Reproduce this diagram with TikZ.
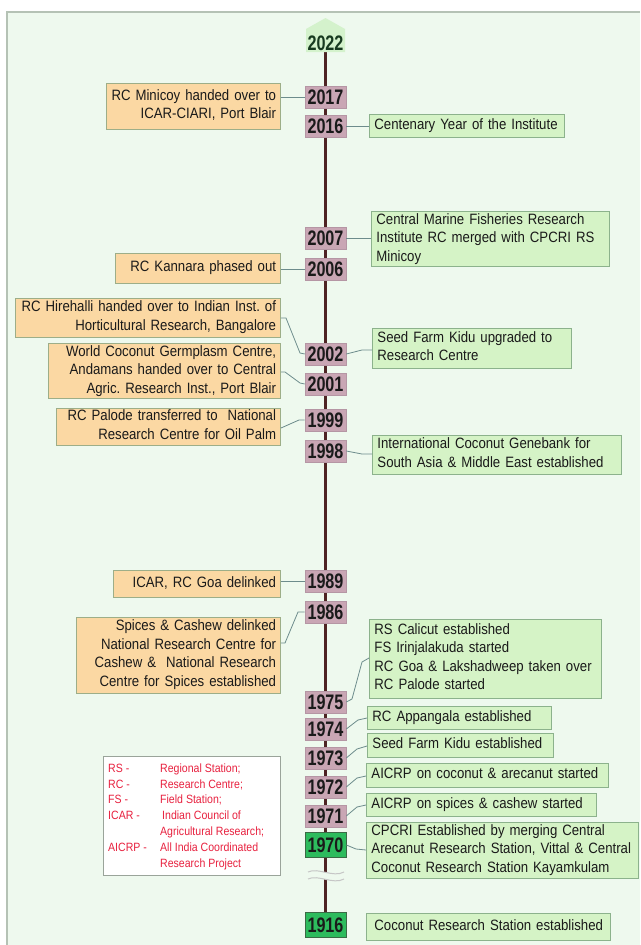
\documentclass[tikz,border=0pt]{standalone}
\usepackage{fontspec}
\setmainfont[FakeStretch=0.88]{Liberation Sans}
\newfontfamily\yearfont[FakeStretch=0.77]{Liberation Sans}
\frenchspacing
\pgfdeclarelayer{bg}
\pgfdeclarelayer{back}
\pgfsetlayers{bg,back,main}
\definecolor{bgc}{HTML}{EEF9EE}
\definecolor{framec}{HTML}{B5C2B5}
\definecolor{orfill}{HTML}{FBD8A3}
\definecolor{ordraw}{HTML}{9DAE88}
\definecolor{grfill}{HTML}{D5F3C6}
\definecolor{grdraw}{HTML}{8CB28C}
\definecolor{mauve}{HTML}{C9A6B4}
\definecolor{mauved}{HTML}{B596A4}
\definecolor{gyear}{HTML}{2DBB5D}
\definecolor{gyeard}{HTML}{3A6A45}
\definecolor{spinec}{HTML}{4E2424}
\definecolor{connc}{HTML}{6D8C8C}
\definecolor{txt}{HTML}{1A1A1A}
\definecolor{legred}{HTML}{E8213F}
\definecolor{legdraw}{HTML}{9AA49A}
\definecolor{topc}{HTML}{D4F2CC}
\definecolor{darkgr}{HTML}{173A1F}
\newcommand{\lftxt}[1]{\begin{tabular}{@{}r@{}}#1\end{tabular}}
\newcommand{\rgtxt}[1]{\begin{tabular}{@{}l@{}}#1\end{tabular}}
\begin{document}
\frenchspacing
\begin{tikzpicture}[x=1pt,y=-1pt,
  yrtext/.style={inner sep=0pt, font=\yearfont\bfseries\fontsize{21pt}{21pt}\selectfont},
  yr/.style={yrtext, fill=mauve, draw=mauved, line width=0.6pt, minimum width=41pt, minimum height=22pt, text=txt},
  yrg/.style={yrtext, fill=gyear, draw=gyeard, line width=0.8pt, minimum width=41pt, minimum height=25pt, text=txt},
  tbox/.style={inner ysep=0pt, text=txt, line width=0.9pt, font=\fontsize{15pt}{18.5pt}\selectfont},
  lbox/.style={tbox, inner xsep=4.5pt, fill=orfill, draw=ordraw, align=right, anchor=east},
  rbox/.style={tbox, inner xsep=5pt, fill=grfill, draw=grdraw, align=left, anchor=west},
  conn/.style={draw=connc, line width=0.8pt},
  spine/.style={draw=spinec, line width=3pt}
]
\useasboundingbox (0,0) rectangle (640,945);
\begin{pgfonlayer}{bg}
  \fill[white] (0,0) rectangle (640,945);
  \fill[bgc] (7,12) rectangle (640,945);
  \draw[framec, line width=1.2pt] (7,945) -- (7,12) -- (640,12);
\end{pgfonlayer}

% top marker
\fill[topc] (306,52) -- (306,29) -- (325.5,18) -- (345,29) -- (345,52) -- cycle;
\node[yrtext, text=darkgr] (y2022) at (325.5,43) {2022};

% year boxes
\node[yr] (y2017) at (325.5,97) {2017};
\node[yr] (y2016) at (325.5,126) {2016};
\node[yr] (y2007) at (325.5,238) {2007};
\node[yr] (y2006) at (325.5,269) {2006};
\node[yr] (y2002) at (325.5,354) {2002};
\node[yr] (y2001) at (325.5,384) {2001};
\node[yr] (y1999) at (325.5,420) {1999};
\node[yr] (y1998) at (325.5,451) {1998};
\node[yr] (y1989) at (325.5,581) {1989};
\node[yr] (y1986) at (325.5,612) {1986};
\node[yr] (y1975) at (325.5,702) {1975};
\node[yr] (y1974) at (325.5,729) {1974};
\node[yr] (y1973) at (325.5,758) {1973};
\node[yr] (y1972) at (325.5,787) {1972};
\node[yr] (y1971) at (325.5,816) {1971};
\node[yrg] (y1970) at (325.5,845) {1970};
\node[yrg] (y1916) at (325.5,925) {1916};

% left boxes
\node[lbox, text width=165pt, minimum height=46pt] (mini) at (281,106) {\lftxt{RC Minicoy handed over to\\ICAR-CIARI, Port Blair}};
\node[lbox, text width=156pt, minimum height=30pt] (kann) at (281,268) {\lftxt{RC Kannara phased out}};
\node[lbox, text width=256pt, minimum height=39pt] (hire) at (281,317.5) {\lftxt{RC Hirehalli handed over to Indian Inst. of\\Horticultural Research, Bangalore}};
\node[lbox, text width=223pt, minimum height=54pt] (world) at (281,371) {\lftxt{World Coconut Germplasm Centre,\\Andamans handed over to Central\\Agric. Research Inst., Port Blair}};
\node[lbox, text width=215pt, minimum height=37pt] (palode) at (281,426.5) {\lftxt{RC Palode transferred to\ \ National\\Research Centre for Oil Palm}};
\node[lbox, text width=158pt, minimum height=27pt] (goa) at (281,583.5) {\lftxt{ICAR, RC Goa delinked}};
\node[lbox, text width=195pt, minimum height=76pt] (spices) at (281,655) {\lftxt{Spices \& Cashew delinked\\National Research Centre for\\Cashew \&\ \ National Research\\Centre for Spices established}};

% right boxes
\node[rbox, text width=185pt, minimum height=23pt] (cent) at (369,125.5) {\rgtxt{Centenary Year of the Institute}};
\node[rbox, text width=228pt, minimum height=54pt] (cmfri) at (371,239) {\rgtxt{Central Marine Fisheries Research\\Institute RC merged with CPCRI RS\\Minicoy}};
\node[rbox, text width=189pt, minimum height=40pt] (seedup) at (372,348) {\rgtxt{Seed Farm Kidu upgraded to\\Research Centre}};
\node[rbox, text width=239pt, minimum height=39pt] (gene) at (372,454.5) {\rgtxt{International Coconut Genebank for\\South Asia \& Middle East established}};
\node[rbox, text width=222pt, minimum height=79pt] (calicut) at (369,658.5) {\rgtxt{RS Calicut established\\FS Irinjalakuda started\\RC Goa \& Lakshadweep taken over\\RC Palode started}};
\node[rbox, text width=174pt, minimum height=23pt] (appa) at (367,717.5) {\rgtxt{RC Appangala established}};
\node[rbox, text width=176pt, minimum height=24pt] (kidu) at (367,745) {\rgtxt{Seed Farm Kidu established}};
\node[rbox, text width=232pt, minimum height=24pt] (aicrpc) at (366,775) {\rgtxt{AICRP on coconut \& arecanut started}};
\node[rbox, text width=220pt, minimum height=23pt] (aicrps) at (366,804.5) {\rgtxt{AICRP on spices \& cashew started}};
\node[rbox, text width=262pt, minimum height=56pt] (cpcri) at (366,850) {\rgtxt{CPCRI Established by merging Central\\Arecanut Research Station, Vittal \& Central\\Coconut Research Station Kayamkulam}};
\node[rbox, text width=234pt, minimum height=27pt] (crs) at (366,926.5) {\rgtxt{\hspace{3pt}Coconut Research Station established}};

% legend
\node[fill=white, draw=legdraw, line width=0.8pt, minimum width=177pt, minimum height=119pt, anchor=north west, inner sep=0pt] (legend) at (103,756) {};
\node[anchor=north west, inner sep=0pt, text=legred, font=\fontsize{12pt}{15.8pt}\selectfont] (legtext) at (108,761)
  {\begin{tabular}{@{}p{52pt}@{}l@{}}
   RS - & Regional Station;\\
   RC - & Research Centre;\\
   FS - & Field Station;\\
   ICAR - & \hspace{2pt}Indian Council of\\
          & Agricultural Research;\\
   AICRP - & All India Coordinated\\
           & Research Project
   \end{tabular}};

% connectors, left side
\draw[conn] (y2017.west) -- (y2017.west -| mini.east);
\draw[conn] (y2006.west) -- (y2006.west -| kann.east);
\draw[conn] (hire.east |- 0,318) -- (286,318) -- (300,353) -- (y2002.west);
\draw[conn] (world.east |- 0,372) -- (285,372) -- (300,383) -- (y2001.west);
\draw[conn] (palode.east |- 0,428) -- (299,420) -- (y1999.west);
\draw[conn] (y1989.west) -- (y1989.west -| goa.east);
\draw[conn] (spices.east |- 0,643) -- (285,643) -- (298,612) -- (y1986.west);

% connectors, right side
\draw[conn] (y2016.east) -- (y2016.east -| cent.west);
\draw[conn] (y2007.east) -- (y2007.east -| cmfri.west);
\draw[conn] (y2002.east) -- (362,350) -- (seedup.west |- 0,350);
\draw[conn] (y1998.east) -- (362,454) -- (gene.west |- 0,454);
\draw[conn] (y1975.east) -- (352,699) -- (362,662) -- (calicut.west |- 0,658);
\draw[conn] (y1974.east) -- (358,720) -- (appa.west |- 0,718);
\draw[conn] (y1973.east) -- (357,749) -- (kidu.west |- 0,746);
\draw[conn] (y1972.east) -- (357,778) -- (aicrpc.west |- 0,776);
\draw[conn] (y1971.east) -- (357,807) -- (aicrps.west |- 0,805);
\draw[conn] (y1970.east) -- (356,849) -- (cpcri.west |- 0,850);

% spine with break
\begin{pgfonlayer}{back}
  \draw[spine] (y2022.south) -- (y1916.north);
  \fill[bgc] (308,872) .. controls (318,867) and (333,878) .. (344,872) -- (344,879) .. controls (333,885) and (318,874) .. (308,879) -- cycle;
  \draw[gray!45, line width=1pt] (308,872) .. controls (318,867) and (333,878) .. (344,872);
  \draw[gray!45, line width=1pt] (308,879) .. controls (318,874) and (333,885) .. (344,879);
\end{pgfonlayer}
\end{tikzpicture}
\end{document}
